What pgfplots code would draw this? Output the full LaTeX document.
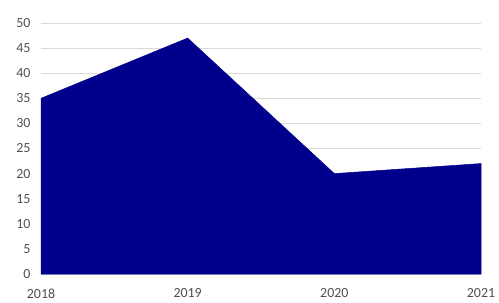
\documentclass[border=0pt]{standalone}
\usepackage{fontspec}
\setmainfont{Carlito}
\usepackage{pgfplots}
\pgfplotsset{compat=1.18}
\definecolor{navyfill}{RGB}{0,0,140}
\definecolor{lblgray}{RGB}{80,80,80}
\definecolor{gridgray}{RGB}{217,217,217}
\begin{document}
\begin{tikzpicture}[x=1bp,y=1bp]
\useasboundingbox (0,0) rectangle (499,302);
\begin{axis}[
  at={(41bp,28bp)}, anchor=origin,
  scale only axis,
  width=440bp, height=251bp,
  xmin=2018, xmax=2021, ymin=0, ymax=50,
  xtick={2018,2019,2020,2021},
  ytick={0,5,...,50},
  /pgf/number format/1000 sep={},
  /pgf/number format/assume math mode=true,
  axis line style={draw=none},
  major tick length=0pt,
  ymajorgrids,
  grid style={gridgray, line width=0.8bp},
  tick label style={font=\fontsize{14}{15}\selectfont, text=lblgray},
  yticklabel style={xshift=-7bp},
  xticklabel style={yshift=-11bp},
  clip=false,
]
\addplot[fill=navyfill, draw=navyfill, line width=0.5bp] coordinates {
  (2018,35) (2019,47) (2020,20) (2021,22)
} \closedcycle;
\end{axis}
\end{tikzpicture}
\end{document}
